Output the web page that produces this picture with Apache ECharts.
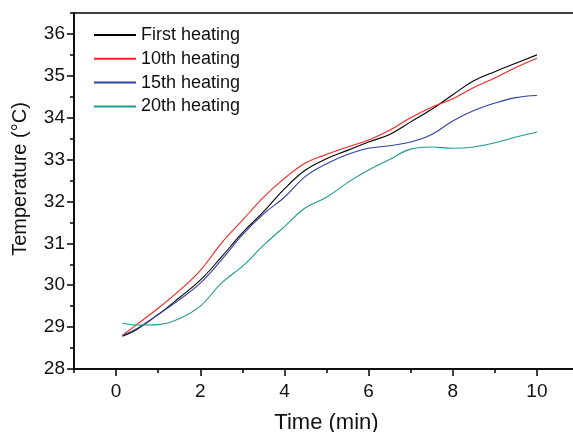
<!DOCTYPE html>
<html>
<head>
<meta charset="utf-8">
<script src="https://cdn.jsdelivr.net/npm/echarts@6/dist/echarts.min.js"></script>
<style>
    html, body { margin: 0; padding: 0; background: #fff; }
    #chart { width: 573px; height: 432px; }
</style>
</head>
<body>
<div id="chart"></div>

<script type="text/javascript">
    // time points (min)
    const times = [0.15, 0.5, 1, 1.5, 2, 2.5, 3, 3.5, 4, 4.5, 5, 5.5, 6, 6.5, 7, 7.5, 8, 8.5, 9, 9.5, 10];

    const seriesNames = ['First heating', '10th heating', '15th heating', '20th heating'];
    const firstHeating = [28.78, 28.95, 29.3, 29.7, 30.12, 30.67, 31.25, 31.75, 32.3, 32.75, 33.02, 33.22, 33.42, 33.6, 33.9, 34.2, 34.55, 34.88, 35.1, 35.3, 35.5];
    const tenthHeating = [28.8, 29.07, 29.45, 29.87, 30.35, 31.0, 31.55, 32.1, 32.55, 32.92, 33.12, 33.3, 33.47, 33.7, 34.0, 34.25, 34.45, 34.72, 34.95, 35.2, 35.42];
    const fifteenthHeating = [28.8, 28.97, 29.3, 29.65, 30.05, 30.6, 31.2, 31.7, 32.1, 32.6, 32.9, 33.12, 33.27, 33.33, 33.42, 33.6, 33.92, 34.17, 34.35, 34.48, 34.53];
    const twentiethHeating = [29.1, 29.05, 29.06, 29.2, 29.5, 30.05, 30.45, 30.95, 31.4, 31.85, 32.1, 32.45, 32.75, 33.0, 33.25, 33.3, 33.27, 33.3, 33.4, 33.54, 33.66];

    const colors = ['#000000', '#ff2020', '#3040a0', '#1e9a8e'];

    const xMajor = [0, 2, 4, 6, 8, 10];
    const xMinor = [-1, 1, 3, 5, 7, 9];
    const yMajor = [28, 29, 30, 31, 32, 33, 34, 35, 36];
    const yMinor = [28.5, 29.5, 30.5, 31.5, 32.5, 33.5, 34.5, 35.5, 36.5];

    const font = 'Liberation Sans, Arial, sans-serif';

    function pairs(ys) {
        let out = [];
        for (let i = 0; i < times.length; i++) {
            out.push([times[i], ys[i]]);
        }
        return out;
    }

    let chart = echarts.init(document.getElementById('chart'));
    let option = {
        animation: false,
        grid: {
            left: 74,
            top: 13,
            right: -6,
            bottom: 63,
            outerBoundsMode: 'none',
            show: true,
            borderColor: '#000',
            borderWidth: 1.5
        },
        legend: {
            orient: 'vertical',
            left: 88,
            top: 21,
            itemWidth: 42,
            itemHeight: 14,
            itemGap: 5.8,
            itemStyle: { opacity: 0 },
            textStyle: { fontFamily: font, fontSize: 18, color: '#111', lineHeight: 18 },
            data: seriesNames
        },
        xAxis: [
            {
                type: 'value',
                min: -1,
                max: 11,
                name: 'Time (min)',
                nameLocation: 'middle',
                nameGap: 43,
                nameTextStyle: { fontFamily: font, fontSize: 22, color: '#111' },
                axisLine: { onZero: false, lineStyle: { color: '#000', width: 1.5 } },
                axisTick: { inside: false, length: 7, customValues: xMajor, lineStyle: { color: '#000', width: 1.5 } },
                axisLabel: { customValues: xMajor, margin: 13, fontFamily: font, fontSize: 19, color: '#111' },
                splitLine: { show: false }
            },
            {
                type: 'value',
                min: -1,
                max: 11,
                position: 'bottom',
                axisLine: { show: false, onZero: false },
                axisTick: { length: 4, customValues: xMinor, lineStyle: { color: '#000', width: 1.5 } },
                axisLabel: { show: false },
                splitLine: { show: false }
            }
        ],
        yAxis: [
            {
                type: 'value',
                min: 28,
                max: 36.5,
                name: 'Temperature (°C)',
                nameLocation: 'middle',
                nameRotate: 90,
                nameGap: 44,
                nameTextStyle: { fontFamily: font, fontSize: 20, color: '#111', padding: [0, 0, 0, 24] },
                axisLine: { onZero: false, lineStyle: { color: '#000', width: 1.5 } },
                axisTick: { length: 7, customValues: yMajor, lineStyle: { color: '#000', width: 1.5 } },
                axisLabel: { customValues: yMajor, margin: 9, fontFamily: font, fontSize: 19, color: '#111' },
                splitLine: { show: false }
            },
            {
                type: 'value',
                min: 28,
                max: 36.5,
                position: 'left',
                axisLine: { show: false, onZero: false },
                axisTick: { length: 4, customValues: yMinor, lineStyle: { color: '#000', width: 1.5 } },
                axisLabel: { show: false },
                splitLine: { show: false }
            }
        ],
        series: [
            { name: seriesNames[0], data: pairs(firstHeating) },
            { name: seriesNames[1], data: pairs(tenthHeating) },
            { name: seriesNames[2], data: pairs(fifteenthHeating) },
            { name: seriesNames[3], data: pairs(twentiethHeating) }
        ].map(function (s, i) {
            return Object.assign({
                type: 'line',
                smooth: 0.4,
                symbol: 'none',
                color: colors[i],
                lineStyle: { width: 1.1, color: colors[i] }
            }, s);
        })
    };
    chart.setOption(option);
</script>
</body>
</html>
